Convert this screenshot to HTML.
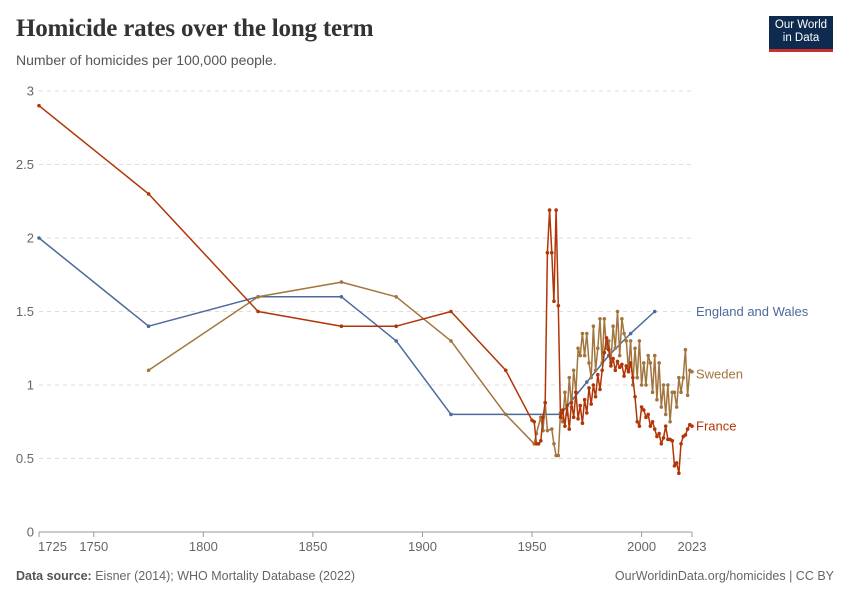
<!DOCTYPE html>
<html><head><meta charset="utf-8"><style>
body{margin:0;background:#fff;font-family:"Liberation Sans",sans-serif;}
#wrap{position:relative;width:850px;height:600px;overflow:hidden;}
.t{position:absolute;white-space:nowrap;}
</style></head><body>
<div id="wrap">
<div class="t" style="left:16px;top:15px;font-family:'Liberation Serif',serif;font-size:25px;font-weight:bold;color:#333;letter-spacing:-0.2px;">Homicide rates over the long term</div>
<div class="t" style="left:16px;top:52px;font-size:14px;color:#555;">Number of homicides per 100,000 people.</div>
<div style="position:absolute;left:769px;top:16px;width:64px;height:36px;background:#0f2a4f;border-bottom:3px solid #c9302c;color:#fff;font-size:11.5px;line-height:13px;text-align:center;padding-top:3px;box-sizing:border-box;">Our World<br>in Data</div>
<svg id="chart" width="850" height="600" style="position:absolute;left:0;top:0;"></svg>
<div class="t" style="left:16px;top:569px;font-size:12.5px;color:#666;"><b style="color:#555">Data source:</b> Eisner (2014); WHO Mortality Database (2022)</div>
<div class="t" style="right:16px;top:569px;font-size:12.5px;color:#666;">OurWorldinData.org/homicides | CC BY</div>
</div>
<script>
const yTicks=[0,0.5,1,1.5,2,2.5,3];
const xTicks=[1725,1750,1800,1850,1900,1950,2000,2023];
const ewYears=[1725,1775,1825,1863,1888,1913,1963,1975,1985,1995,2006];
const ewValues=[2.0,1.4,1.6,1.6,1.3,0.8,0.8,1.02,1.2,1.35,1.5];
const swEarlyYears=[1775,1825,1863,1888,1913,1938,1951,1952,1954,1955,1956,1957,1959,1960,1961,1962];
const swEarlyValues=[1.1,1.6,1.7,1.6,1.3,0.8,0.6,0.67,0.78,0.69,0.88,0.69,0.7,0.6,0.52,0.52];
const swLateValues=[.81,.75,.95,.80,1.05,.85,1.10,.95,1.25,1.20,1.35,1.20,1.35,1.15,1.05,1.40,1.10,1.25,1.45,1.15,1.45,1.25,1.30,1.15,1.40,1.25,1.50,1.20,1.45,1.35,1.30,1.10,1.30,1.00,1.25,1.05,1.30,1.00,1.15,1.00,1.20,1.15,.95,1.20,.90,1.15,.85,1.00,.80,1.00,.75,.95,.95,.85,1.05,.95,1.05,1.24,.93,1.1,1.09];
const frEarlyYears=[1725,1775,1825,1863,1888,1913,1938,1950,1951,1952,1953,1954,1955,1956,1957,1958,1959,1960,1961,1962];
const frEarlyValues=[2.9,2.3,1.5,1.4,1.4,1.5,1.1,0.76,0.75,0.6,0.6,0.62,0.78,0.88,1.9,2.19,1.9,1.57,2.19,1.54];
const frLateValues=[.78,.83,.72,.86,.70,.88,.78,.95,.77,.86,.74,.90,.81,.98,.87,1.00,.92,1.07,.97,1.10,1.22,1.32,1.24,1.13,1.18,1.10,1.16,1.12,1.14,1.06,1.13,1.09,1.15,1.05,.92,.75,.72,.85,.83,.78,.80,.72,.75,.70,.65,.67,.60,.64,.72,.63,.63,.62,.45,.47,.40,.60,.65,.66,.70,.73,.72];
const lateStart=1963;

const svg=document.getElementById('chart');
const NS='http://www.w3.org/2000/svg';
const X0=39,X1=692,Y0=532,Y1=91;
function xs(y){return X0+(y-1725)/(2023-1725)*(X1-X0);}
function ys(v){return Y0-v/3*(Y0-Y1);}
function mk(tag,at){const e=document.createElementNS(NS,tag);for(const k in at)e.setAttribute(k,at[k]);svg.appendChild(e);return e;}
yTicks.forEach(v=>{
  if(v>0){const g=mk('line',{x1:X0,x2:X1,y1:ys(v),y2:ys(v),stroke:'#ddd','stroke-dasharray':'4,4'});
  
  }
  const t=mk('text',{x:34,y:ys(v)+4.5,'text-anchor':'end','font-size':13,fill:'#666','font-family':'Liberation Sans, sans-serif'});
  t.textContent=v;
  
  
});
const ax=mk('line',{x1:X0,x2:X1,y1:Y0,y2:Y0,stroke:'#999'});


xTicks.forEach(yr=>{
  const tk=mk('line',{x1:xs(yr),x2:xs(yr),y1:Y0,y2:Y0+5,stroke:'#999'});
  
  
  const t=mk('text',{x:yr===1725?xs(yr)-1:xs(yr),y:551,'text-anchor':yr===1725?'start':'middle','font-size':13,fill:'#666','font-family':'Liberation Sans, sans-serif'});
  t.textContent=yr;
  
  
});
function series(years,vals,color,name){
  const pts=years.map((y,i)=>xs(y).toFixed(1)+','+ys(vals[i]).toFixed(1)).join(' ');
  const p=mk('polyline',{points:pts,fill:'none',stroke:color,'stroke-width':1.5,'stroke-linejoin':'round'});
  
  
  years.forEach((y,i)=>{const c=mk('circle',{cx:xs(y),cy:ys(vals[i]),r:1.8,fill:color});
    
    });
}
const lateYears=swLateValues.map((_,i)=>lateStart+i);
const frLateYears=frLateValues.map((_,i)=>lateStart+i);
series(ewYears,ewValues,'#4c6a9c','england-wales');
series(swEarlyYears.concat(lateYears),swEarlyValues.concat(swLateValues),'#a2753e','sweden');
series(frEarlyYears.concat(frLateYears),frEarlyValues.concat(frLateValues),'#b13507','france');
[['England and Wales',ewValues[ewValues.length-1],'#4c6a9c','england-wales-label',0],
 ['Sweden',swLateValues[swLateValues.length-1],'#a2753e','sweden-label',2],
 ['France',frLateValues[frLateValues.length-1],'#b13507','france-label',0]].forEach(a=>{
  const t=mk('text',{x:696,y:ys(a[1])+4.5+a[4],'font-size':13,fill:a[2],'font-family':'Liberation Sans, sans-serif'});
  t.textContent=a[0];
  
  
});
</script>
</body></html>
